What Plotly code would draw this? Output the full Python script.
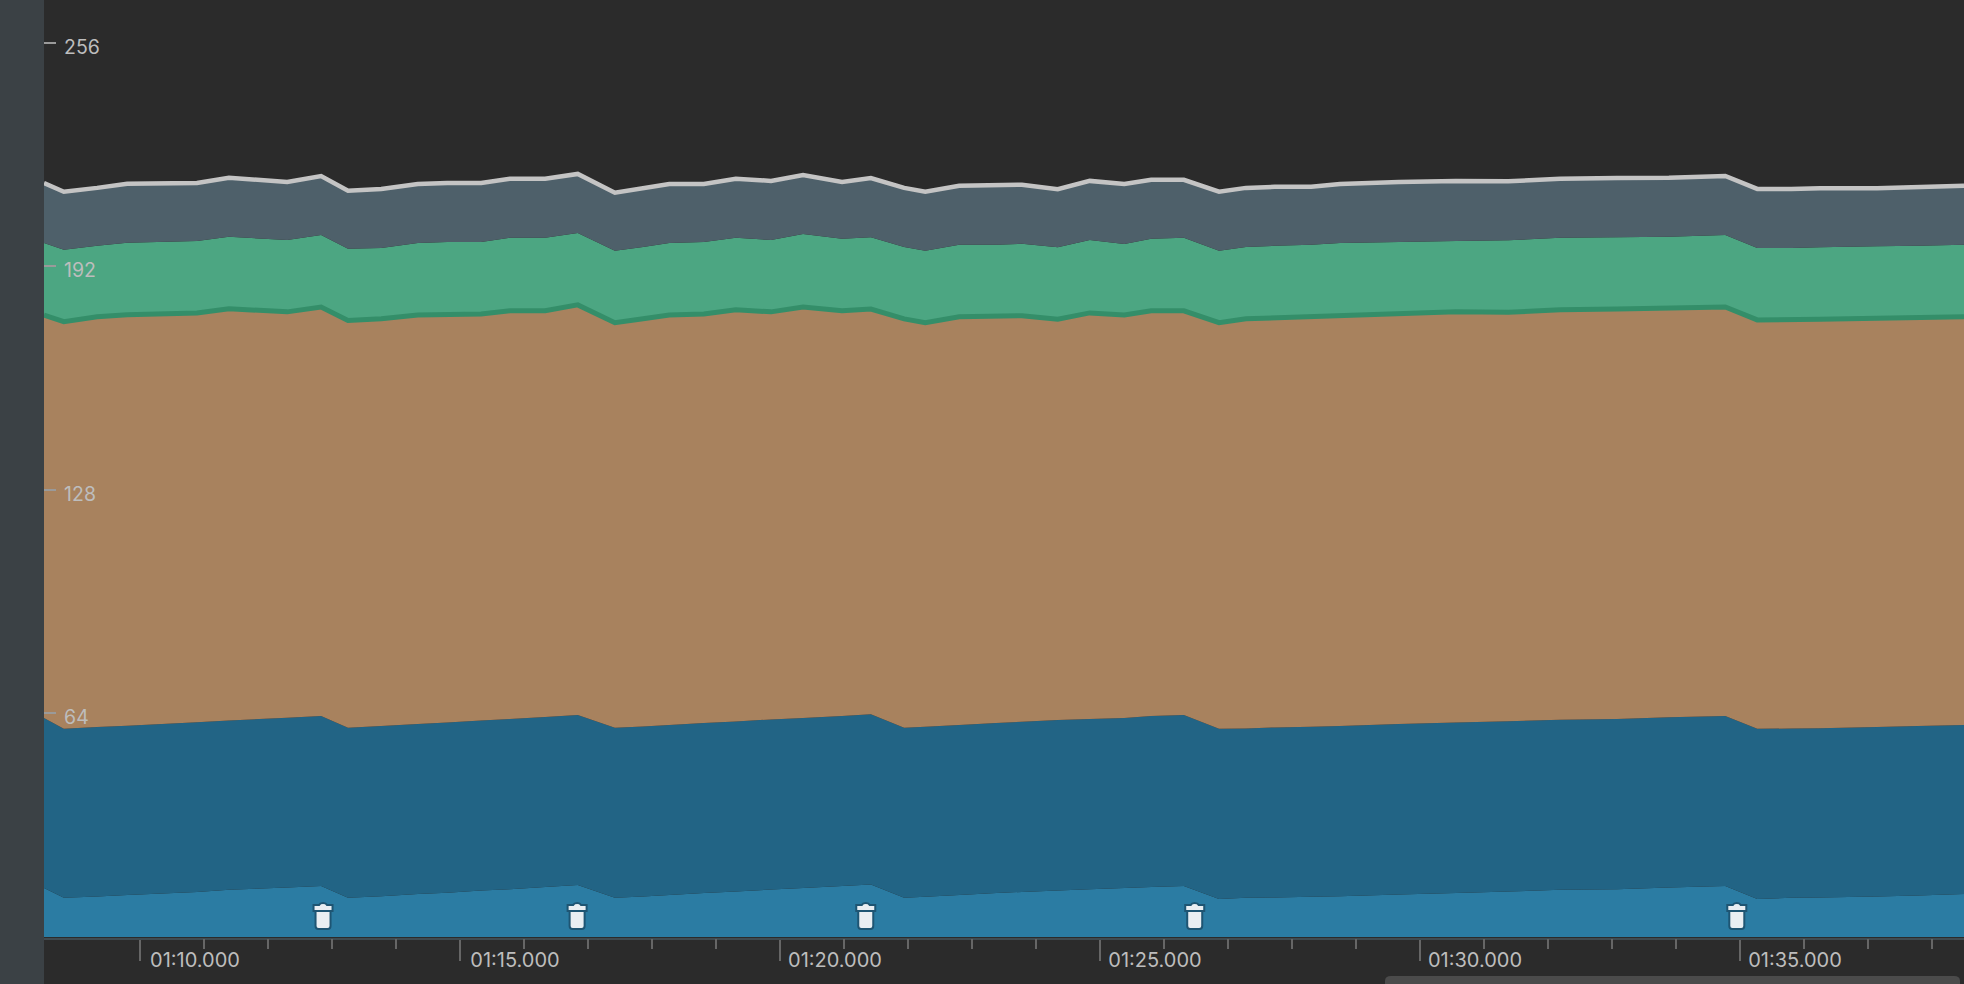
import numpy as np
import plotly.graph_objects as go

# Time in seconds
times = [68.50,68.81,69.33,69.80,70.89,71.39,72.30,72.83,
         73.25,73.77,74.34,74.80,75.33,75.78,76.33,76.84,
         77.42,77.86,78.27,78.81,79.31,79.86,80.36,80.97,81.42,
         81.94,82.27,82.80,83.38,83.78,84.34,84.84,85.38,85.80,86.31,
         86.86,87.28,87.73,88.30,88.75,89.67,90.56,91.38,92.19,93.08,93.89,94.77,
         95.27,95.80,96.25,97.14,97.78,98.50]

layer_light = [14.0,11.2,11.6,12.0,12.9,13.5,14.2,14.6,
               11.2,11.7,12.3,12.7,13.3,13.7,14.3,14.9,
               11.2,11.6,12.0,12.6,13.0,13.6,14.0,14.6,15.0,
               11.2,11.5,12.0,12.6,12.9,13.3,13.7,14.0,14.3,14.6,
               10.9,11.2,11.3,11.5,11.7,12.2,12.6,13.0,13.5,13.7,14.2,14.6,
               10.9,11.2,11.3,11.6,11.9,12.3]
layer_dark = [48.7,48.4,48.5,48.5,48.6,48.5,48.6,48.7,
              48.7,48.7,48.7,48.7,48.7,48.7,48.7,48.7,
              48.7,48.7,48.7,48.7,48.7,48.7,48.7,48.7,48.8,
              48.7,48.7,48.7,48.7,48.7,48.8,48.7,48.7,49.0,49.0,
              48.7,48.5,48.7,48.7,48.7,48.8,48.8,48.8,48.7,48.7,48.7,48.7,
              48.7,48.5,48.5,48.5,48.5,48.4]
layer_brown = [115.4,116.6,117.5,117.7,117.2,117.9,116.2,117.1,
               116.6,116.6,117.1,117.0,116.4,116.9,116.3,117.4,
               116.0,116.7,117.4,117.1,117.9,116.7,117.7,116.0,116.0,
               117.1,115.7,116.9,116.3,116.3,114.8,116.3,115.4,116.0,115.7,
               116.3,117.3,117.3,117.4,117.7,117.4,117.6,117.1,117.4,117.4,117.3,117.1,
               117.1,117.0,117.1,117.1,116.9,116.9]
layer_green = [20.6,20.6,20.3,20.6,20.6,20.6,20.6,20.6,
               20.6,20.3,20.6,20.6,20.6,20.9,20.9,20.6,
               20.6,20.6,20.6,20.6,20.6,20.6,20.9,20.6,20.6,
               20.6,20.6,20.6,20.6,20.6,20.6,20.9,20.3,20.6,20.9,
               20.6,20.6,20.6,20.6,20.6,20.6,20.3,20.6,20.6,20.6,20.3,20.6,
               20.6,20.6,20.6,20.6,20.6,20.6]
layer_slate = [17.2,16.6,16.6,16.9,16.6,16.9,16.6,16.9,
               16.6,16.9,16.9,16.9,16.9,16.9,16.9,16.9,
               16.6,16.9,16.9,16.6,16.9,16.9,16.9,16.3,16.9,
               16.9,16.9,16.9,16.9,16.9,16.6,16.9,17.2,16.9,16.6,
               16.9,16.9,16.9,16.6,16.9,17.2,17.2,16.9,16.9,16.9,16.9,16.9,
               16.9,16.9,16.9,16.6,16.9,16.9]

y_ticks = [64, 128, 192, 256]
x_ticks = [70, 75, 80, 85, 90, 95]
x_labels = ["01:10.000", "01:15.000", "01:20.000", "01:25.000", "01:30.000", "01:35.000"]
x_minor_ticks = [69, 71, 72, 73, 74, 76, 77, 78, 79, 81, 82, 83, 84, 86, 87, 88, 89, 91, 92, 93, 94, 96, 97, 98]
gc_times = [72.86, 76.83, 81.34, 86.48, 94.95]

W, H = 1964, 984
AXIS_Y = 938
PANEL_W = 44
X_RANGE = [68.5, 98.5]

fig = go.Figure()
layers = [(layer_light, "#2b7ca3"), (layer_dark, "#226485"), (layer_brown, "#a8825e"),
          (layer_green, "#4ca682"), (layer_slate, "#4e606a")]
for vals, col in layers:
    fig.add_trace(go.Scatter(x=times, y=vals, mode="none", stackgroup="mem",
                             fillcolor=col, hoverinfo="skip", showlegend=False))

cum = np.cumsum([layer_light, layer_dark, layer_brown, layer_green, layer_slate], axis=0)
fig.add_trace(go.Scatter(x=times, y=cum[2], mode="lines", line=dict(color="#348e69", width=5),
                         hoverinfo="skip", showlegend=False))
fig.add_trace(go.Scatter(x=times, y=cum[4], mode="lines", line=dict(color="#c4c4c4", width=4.5),
                         hoverinfo="skip", showlegend=False))
# Carrier for the second-by-second tick axis
fig.add_trace(go.Scatter(x=x_minor_ticks, y=[0] * len(x_minor_ticks), xaxis="x2", mode="none",
                         hoverinfo="skip", showlegend=False))

shapes = [
    dict(type="rect", xref="paper", yref="paper", x0=0, x1=PANEL_W / W, y0=0, y1=1,
         fillcolor="#3b4145", line_width=0, layer="above"),
    dict(type="path", xref="paper", yref="paper", layer="above", fillcolor="#4b4b4b", line_width=0,
         path=f"M {1385/W} 0 L {1385/W} {3/H} Q {1385/W} {8/H} {1391/W} {8/H} "
              f"L {1954/W} {8/H} Q {1960/W} {8/H} {1960/W} {3/H} L {1960/W} 0 Z"),
]
for t in gc_times:
    common = dict(type="path", xref="x", yref="y", xsizemode="pixel", ysizemode="pixel",
                  xanchor=t, yanchor=6.0, fillcolor="#e9eef2", layer="above",
                  line=dict(color="#1e5573", width=2))
    shapes.append(dict(path="M -7.5 5 L 7.5 5 L 7.5 -10 Q 7.5 -13 4.5 -13 L -4.5 -13 Q -7.5 -13 -7.5 -10 Z", **common))
    shapes.append(dict(path="M -9.5 5 L -9.5 11 L -4 11 Q -3 13 0 13 Q 3 13 4 11 L 9.5 11 L 9.5 5 Z", **common))

fig.update_layout(
    width=W, height=H, autosize=False,
    margin=dict(l=0, r=0, t=0, b=0, pad=0),
    paper_bgcolor="#2b2b2b", plot_bgcolor="#2b2b2b",
    font=dict(family="Inter, Roboto, sans-serif", size=19, color="#bdbdbd"),
    showlegend=False,
    shapes=shapes,
    xaxis=dict(domain=[PANEL_W / W, 1], range=X_RANGE, showgrid=False, zeroline=False,
               automargin=False, tickmode="array", tickvals=x_ticks, ticktext=x_labels,
               ticks="outside", ticklen=21, tickwidth=2, tickcolor="#666666",
               showline=True, linecolor="#3f4a50", linewidth=2,
               tickfont=dict(size=20, color="#bdbdbd"),
               ticklabelshift=55, ticklabelstandoff=-18),
    xaxis2=dict(domain=[PANEL_W / W, 1], range=X_RANGE, overlaying="x", anchor="y", side="bottom",
                showgrid=False, zeroline=False, automargin=False, showline=False,
                tickmode="array", tickvals=x_minor_ticks, ticks="outside", ticklen=10, tickwidth=2,
                tickcolor="#666666", showticklabels=False),
    yaxis=dict(domain=[(H - AXIS_Y) / H, 1], range=[-0.29, 268.3], showgrid=False, zeroline=False,
               automargin=False, tickmode="array", tickvals=y_ticks, ticktext=[str(v) for v in y_ticks],
               ticks="inside", ticklen=12, tickwidth=2, tickcolor="#9a9a9a",
               tickfont=dict(size=19.5, color="#bdbdbd"),
               ticklabelposition="inside", ticklabelstandoff=9, ticklabelshift=4, showline=False),
)

fig.write_html("out.html", post_script="document.body.style.margin='0';document.body.style.overflow='hidden';",
               config={"displayModeBar": False})
